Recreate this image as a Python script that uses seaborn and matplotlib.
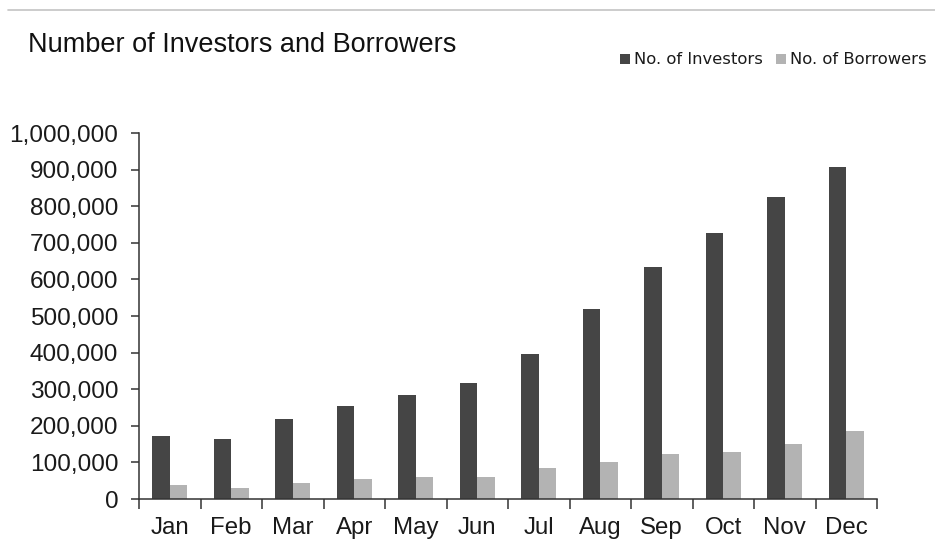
import matplotlib
matplotlib.use("Agg")
import matplotlib.pyplot as plt
from matplotlib.lines import Line2D
from matplotlib.patches import Patch
from matplotlib.ticker import FuncFormatter, FixedLocator
import seaborn as sns
import pandas as pd

months = ["Jan", "Feb", "Mar", "Apr", "May", "Jun",
          "Jul", "Aug", "Sep", "Oct", "Nov", "Dec"]
investors = [173000, 165000, 218000, 253000, 285000, 317000,
             397000, 518000, 633000, 726000, 826000, 906000]
borrowers = [37000, 29000, 45000, 54000, 61000, 61000,
             85000, 101000, 122000, 129000, 149000, 185000]
series_names = ["No. of Investors", "No. of Borrowers"]
series_colors = ["#454545", "#b3b3b3"]

df = pd.DataFrame({
    "month": months * 2,
    "count": investors + borrowers,
    "series": [series_names[0]] * len(months) + [series_names[1]] * len(months),
})

sns.set_style("white")
plt.rcParams["font.family"] = ["Liberation Sans", "DejaVu Sans"]

fig = plt.figure(figsize=(9.35, 5.39), dpi=100)
ax = fig.add_axes([139 / 935, 1 - 499 / 539, (877 - 139) / 935, (499 - 133) / 539])

sns.barplot(data=df, x="month", y="count", hue="series", order=months,
            hue_order=series_names, palette=series_colors, width=0.575,
            linewidth=0, saturation=1, legend=False, ax=ax)

ax.set_xlim(-0.5, len(months) - 0.5)
ax.set_ylim(0, 1_000_000)
ax.set_yticks(range(0, 1_000_001, 100_000))
ax.yaxis.set_major_formatter(FuncFormatter(lambda v, _: f"{int(v):,}"))
ax.set_xlabel("")
ax.set_ylabel("")

# month labels centred, tick marks on the category boundaries
ax.xaxis.set_minor_locator(FixedLocator([i - 0.5 for i in range(len(months) + 1)]))
ax.tick_params(axis="x", which="major", length=0, pad=13, labelsize=17.3,
               labelcolor="#1a1a1a")
ax.tick_params(axis="x", which="minor", length=7, width=1.1, color="#333333",
               direction="out", bottom=True)
ax.tick_params(axis="y", which="major", length=6, width=1.1, color="#333333",
               direction="out", left=True, pad=9, labelsize=17.6,
               labelcolor="#1a1a1a")

for side in ["top", "right"]:
    ax.spines[side].set_visible(False)
for side in ["left", "bottom"]:
    ax.spines[side].set_color("#333333")
    ax.spines[side].set_linewidth(1.1)

# rule along the top of the figure
fig.add_artist(Line2D([8 / 935, 1.0], [1 - 9.5 / 539] * 2,
                      color="#c4c4c4", linewidth=1.2, transform=fig.transFigure))

fig.text(28 / 935, 1 - 52 / 539, "Number of Investors and Borrowers",
         fontsize=19.5, color="#111111", ha="left", va="baseline")

handles = [Patch(facecolor=c, edgecolor="none", label=n)
           for c, n in zip(series_colors, series_names)]
fig.legend(handles=handles, loc="center right",
           bbox_to_anchor=(927 / 935, 1 - 60 / 539), ncol=2, frameon=False,
           borderpad=0, borderaxespad=0, handlelength=0.6, handleheight=0.6,
           handletextpad=0.25, columnspacing=0.85,
           prop={"family": "DejaVu Sans", "size": 11.8},
           labelcolor="#1a1a1a")

fig.savefig("out.png", dpi=100)
